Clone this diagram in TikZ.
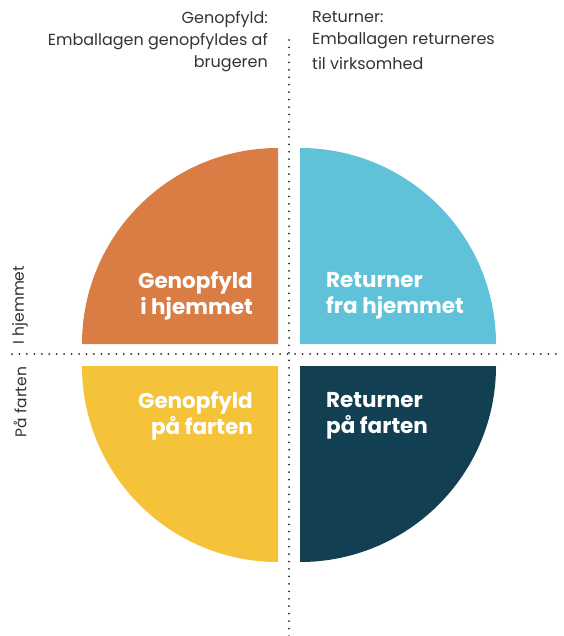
\documentclass[tikz,border=0pt]{standalone}
\usepackage{fontspec}
\setmainfont{Poppins}
\definecolor{corange}{HTML}{D97D44}
\definecolor{cblue}{HTML}{5FC2D8}
\definecolor{cyellow}{HTML}{F4C33A}
\definecolor{cdark}{HTML}{123F52}
\definecolor{ctext}{HTML}{333333}
\begin{document}
\begin{tikzpicture}[x=1pt,y=-1pt,
  dotline/.style={line width=2pt,line cap=round,dash pattern=on 0pt off 7.45pt,color=black!85},
  toptext/.style={font=\fontsize{16}{22}\selectfont,text=ctext,inner sep=0pt},
  sidetext/.style={font=\fontsize{15.5}{18}\selectfont,text=ctext,inner sep=0pt,rotate=90},
  quadtext/.style={font=\fontsize{21.5}{26.5}\selectfont\bfseries,text=white,inner sep=0pt}]
\useasboundingbox (0,0) rectangle (563,636);
% quadrants
\fill[corange] (278,344) -- (82,344) arc[start angle=180,end angle=270,radius=196] -- cycle;
\fill[cblue] (300,344) -- (300,148) arc[start angle=270,end angle=360,radius=196] -- cycle;
\fill[cyellow] (278,366) -- (278,562) arc[start angle=90,end angle=180,radius=196] -- cycle;
\fill[cdark] (300,366) -- (496,366) arc[start angle=0,end angle=90,radius=196] -- cycle;
% dotted axes
\coordinate (vtop) at (289,40);
\coordinate (vbot) at (289,636);
\coordinate (hl) at (12,354);
\coordinate (hr) at (563,354);
\draw[dotline] (vtop) -- (vbot);
\draw[dotline] (hl) -- (hr);
% top texts
\node[toptext,align=right,anchor=north east] (gtop) at (268,11.5) {Genopfyld:\\Emballagen genopfyldes af\\brugeren};
\node[toptext,align=left,anchor=north west] (rtop) at (312,11.5) {Returner:\\Emballagen returneres\\[3pt]til virksomhed};
% side texts
\node[sidetext] (ihj) at (20,305) {I hjemmet};
\node[sidetext] (paf) at (20,402) {På farten};
% quadrant texts
\node[quadtext,align=right,anchor=east] (q1) at (253,296) {Genopfyld\\i hjemmet};
\node[quadtext,align=left,anchor=west] (q2) at (326,296) {Returner\\fra hjemmet};
\node[quadtext,align=right,anchor=east] (q3) at (253,416) {Genopfyld\\på farten};
\node[quadtext,align=left,anchor=west] (q4) at (326,416) {Returner\\på farten};
\end{tikzpicture}
\end{document}
